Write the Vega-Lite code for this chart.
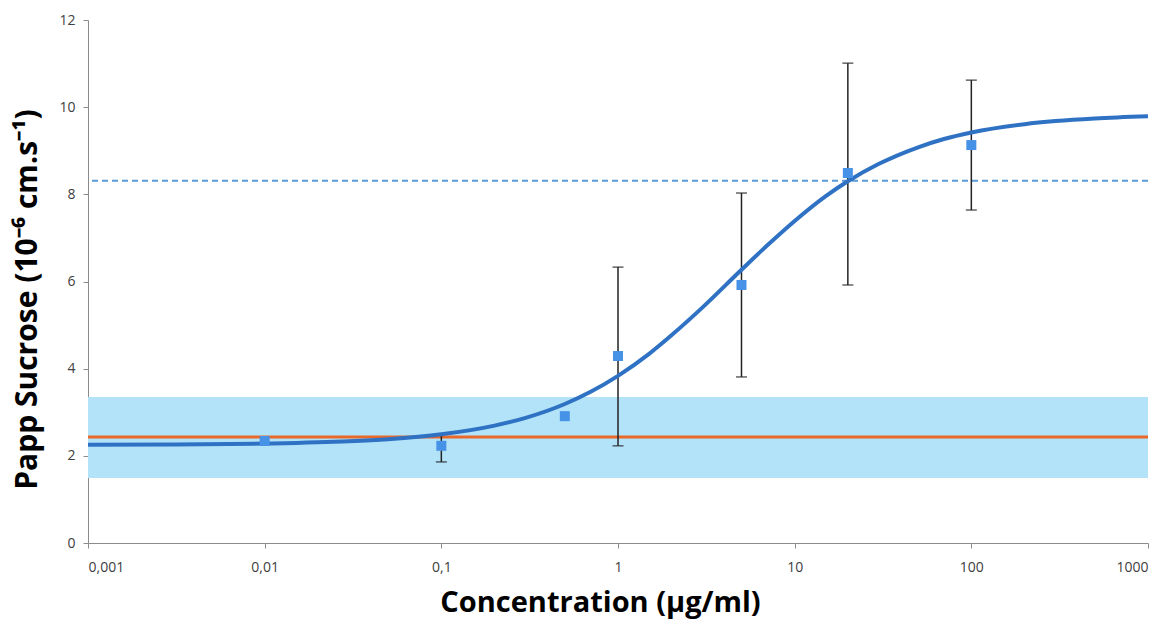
{
  "$schema": "https://vega.github.io/schema/vega-lite/v6.json",
  "width": 1060,
  "height": 523,
  "autosize": {"type": "none"},
  "padding": {"left": 88, "top": 20, "right": 26, "bottom": 85},
  "background": "white",
  "config": {"view": {"stroke": null}, "font": "Open Sans"},
  "datasets": {
    "band": [{"lo": 1.49, "hi": 3.35}],
    "ref": [{"y": 2.43, "kind": "mean"}, {"y": 8.31, "kind": "thr"}],
    "pts": [
      {"conc": 0.01, "papp": 2.34, "lo": null, "hi": null},
      {"conc": 0.1, "papp": 2.23, "lo": 1.86, "hi": 2.5},
      {"conc": 0.5, "papp": 2.91, "lo": null, "hi": null},
      {"conc": 1, "papp": 4.29, "lo": 2.23, "hi": 6.33},
      {"conc": 5, "papp": 5.92, "lo": 3.81, "hi": 8.03},
      {"conc": 20, "papp": 8.49, "lo": 5.92, "hi": 11.01},
      {"conc": 100, "papp": 9.13, "lo": 7.64, "hi": 10.62}
    ],
    "fit": [
      {"conc": 0.001, "papp": 2.254},
      {"conc": 0.003, "papp": 2.26},
      {"conc": 0.01, "papp": 2.282},
      {"conc": 0.03, "papp": 2.334},
      {"conc": 0.05, "papp": 2.383},
      {"conc": 0.1, "papp": 2.494},
      {"conc": 0.2, "papp": 2.693},
      {"conc": 0.3, "papp": 2.872},
      {"conc": 0.5, "papp": 3.19},
      {"conc": 0.7, "papp": 3.47},
      {"conc": 1, "papp": 3.836},
      {"conc": 1.5, "papp": 4.34},
      {"conc": 2, "papp": 4.76},
      {"conc": 3, "papp": 5.4},
      {"conc": 5, "papp": 6.27},
      {"conc": 7, "papp": 6.83},
      {"conc": 10, "papp": 7.39},
      {"conc": 15, "papp": 7.96},
      {"conc": 20, "papp": 8.3},
      {"conc": 30, "papp": 8.7},
      {"conc": 50, "papp": 9.08},
      {"conc": 70, "papp": 9.27},
      {"conc": 100, "papp": 9.42},
      {"conc": 200, "papp": 9.61},
      {"conc": 300, "papp": 9.68},
      {"conc": 500, "papp": 9.74},
      {"conc": 1000, "papp": 9.79}
    ]
  },
  "encoding": {
    "x": {
      "field": "conc", "type": "quantitative",
      "scale": {"type": "log", "domain": [0.001, 1000], "nice": false},
      "axis": {
        "values": [0.001, 0.01, 0.1, 1, 10, 100, 1000],
        "labelExpr": "replace(format(datum.value, ''), '.', ',')",
        "grid": false, "domainColor": "#8c8c8c", "tickColor": "#8c8c8c", "tickSize": 5,
        "labelColor": "#404040", "labelFontSize": 14, "labelPadding": 12, "labelFont": "Open Sans",
        "title": "Concentration (µg/ml)", "titleFontSize": 29, "titleFontWeight": "bold", "titleColor": "#000000",
        "titlePadding": 14, "titleFont": "Open Sans", "titleX": 512
      }
    },
    "y": {
      "field": "papp", "type": "quantitative",
      "scale": {"domain": [0, 12], "nice": false, "zero": true},
      "axis": {
        "values": [0, 2, 4, 6, 8, 10, 12],
        "grid": false, "domainColor": "#8c8c8c", "tickColor": "#8c8c8c", "tickSize": 5,
        "labelColor": "#404040", "labelFontSize": 14, "labelPadding": 8, "labelFont": "Open Sans",
        "title": "Papp Sucrose (10⁻⁶ cm.s⁻¹)", "titleFontSize": 30, "titleFontWeight": "bold", "titleColor": "#000000",
        "titlePadding": 16, "titleFont": "Open Sans", "titleY": 279
      }
    }
  },
  "layer": [
    {
      "data": {"name": "band"},
      "mark": {"type": "rect", "color": "#b3e3f8", "opacity": 1},
      "encoding": {"x": null, "y": {"field": "lo", "type": "quantitative"}, "y2": {"field": "hi"}}
    },
    {
      "data": {"name": "ref"},
      "transform": [{"filter": "datum.kind == 'mean'"}],
      "mark": {"type": "rule", "color": "#e8692a", "strokeWidth": 3},
      "encoding": {"x": null, "y": {"field": "y", "type": "quantitative"}}
    },
    {
      "data": {"name": "ref"},
      "transform": [{"filter": "datum.kind == 'thr'"}],
      "mark": {"type": "rule", "color": "#5b9bd5", "strokeWidth": 2, "strokeDash": [6, 4]},
      "encoding": {"x": null, "y": {"field": "y", "type": "quantitative"}}
    },
    {
      "data": {"name": "pts"},
      "transform": [{"filter": "datum.lo != null"}],
      "mark": {"type": "rule", "color": "#222222", "strokeWidth": 1.5},
      "encoding": {"y": {"field": "lo", "type": "quantitative"}, "y2": {"field": "hi"}}
    },
    {
      "data": {"name": "pts"},
      "transform": [{"filter": "datum.lo != null"}],
      "mark": {"type": "tick", "orient": "horizontal", "color": "#222222", "size": 11, "thickness": 1.5},
      "encoding": {"y": {"field": "lo", "type": "quantitative"}}
    },
    {
      "data": {"name": "pts"},
      "transform": [{"filter": "datum.lo != null"}],
      "mark": {"type": "tick", "orient": "horizontal", "color": "#222222", "size": 11, "thickness": 1.5},
      "encoding": {"y": {"field": "hi", "type": "quantitative"}}
    },
    {
      "data": {"name": "fit"},
      "mark": {"type": "line", "color": "#2f72c4", "strokeWidth": 4, "interpolate": "monotone"}
    },
    {
      "data": {"name": "pts"},
      "mark": {"type": "square", "color": "#4592e6", "opacity": 1, "size": 100}
    }
  ]
}
